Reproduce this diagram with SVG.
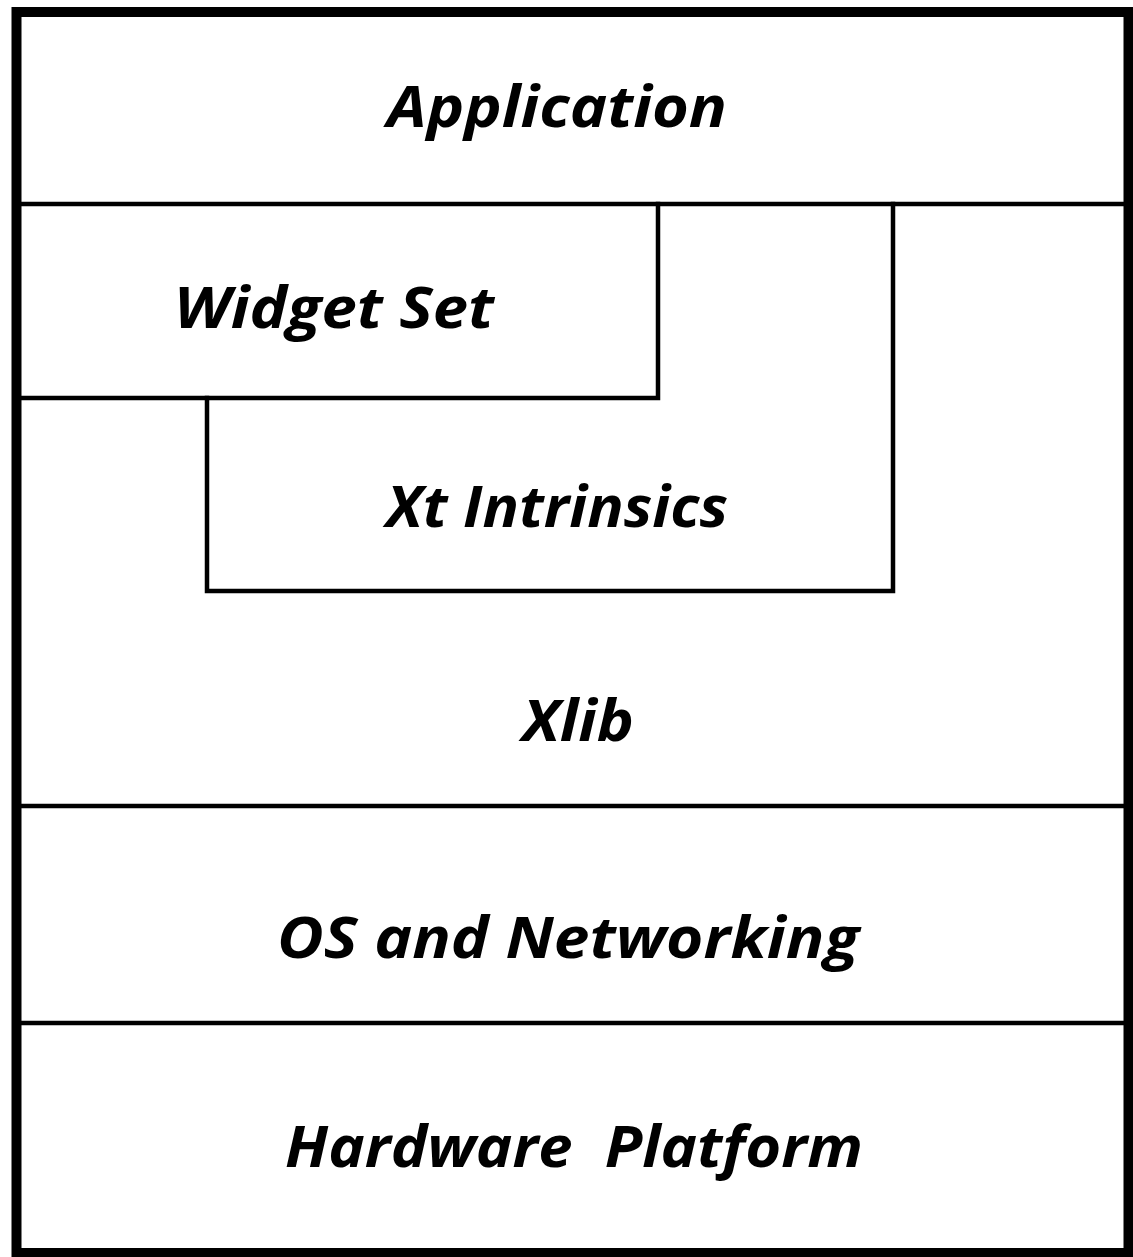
<svg xmlns="http://www.w3.org/2000/svg" width="1133" height="1257" viewBox="0 0 1133 1257">
  <style>
    .frame { fill: none; stroke: #000; stroke-width: 10; }
    .rule { fill: none; stroke: #000; stroke-width: 4.5; stroke-linejoin: miter; stroke-linecap: square; }
    .label { font-family: "Open Sans", "Noto Sans", "Liberation Sans", sans-serif; font-style: italic; font-weight: bold; font-size: 57px; fill: #000; text-anchor: middle; white-space: pre; }
  </style>
  <rect width="1133" height="1257" fill="#fff"/>

  <!-- layer boundaries -->
  <g id="connectors">
    <line class="rule" x1="18" y1="204" x2="1127" y2="204"/>
    <polyline class="rule" points="658,204 658,398 18,398"/>
    <polyline class="rule" points="893,204 893,591 207,591 207,398"/>
    <line class="rule" x1="18" y1="806" x2="1127" y2="806"/>
    <line class="rule" x1="18" y1="1023" x2="1127" y2="1023"/>
    <rect class="frame" x="16.5" y="12" width="1112" height="1241"/>
  </g>

  <g id="application">
    <text class="label" x="557" y="127" textLength="340" lengthAdjust="spacingAndGlyphs">Application</text>
  </g>
  <g id="widget-set">
    <text class="label" x="334" y="328" textLength="320" lengthAdjust="spacingAndGlyphs">Widget Set</text>
  </g>
  <g id="xt-intrinsics">
    <text class="label" x="557" y="527" textLength="342" lengthAdjust="spacingAndGlyphs">Xt Intrinsics</text>
  </g>
  <g id="xlib">
    <text class="label" x="578" y="741" textLength="112" lengthAdjust="spacingAndGlyphs">Xlib</text>
  </g>
  <g id="os-networking">
    <text class="label" x="568" y="958" textLength="582" lengthAdjust="spacingAndGlyphs">OS and Networking</text>
  </g>
  <g id="hardware-platform">
    <text class="label" x="574" y="1167" textLength="578" lengthAdjust="spacingAndGlyphs">Hardware  Platform</text>
  </g>
</svg>
